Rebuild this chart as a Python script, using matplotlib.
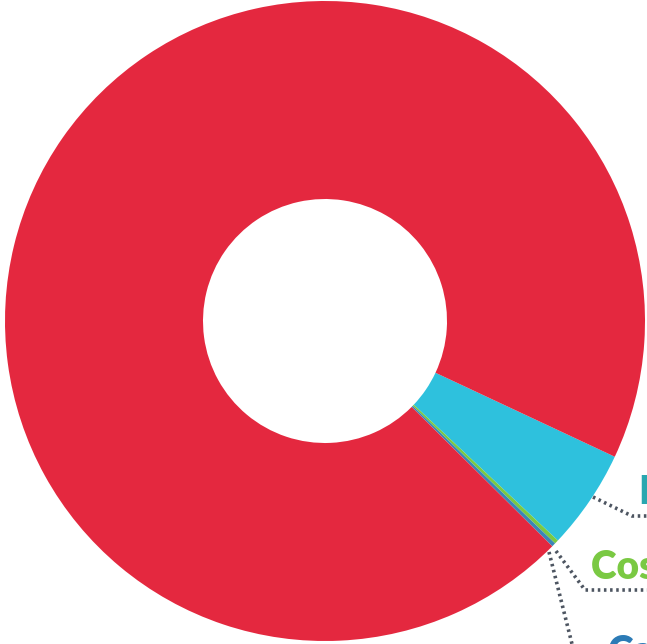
import matplotlib.pyplot as plt
import numpy as np

# share of total by category
labels = ["Fuel", "Cost of sales", "Capital"]
label_colors = ["#2aa7b0", "#7ac943", "#2c7bb6"]
categories = ["Other", "Fuel", "Cost of sales", "Capital"]
values = [94.54, 5.06, 0.20, 0.20]
colors = ["#e4283f", "#2ec1dd", "#7ac943", "#3b86b6"]

W, H = 647, 644
fig = plt.figure(figsize=(W / 100, H / 100), dpi=100)
ax = fig.add_axes([0, 0, 1, 1])

cx, cy, r = 325, H - 321, 320
# clockwise from the red/cyan boundary: cyan, green, blue, then the big red slice
order = [1, 2, 3, 0]
ax.pie([values[i] for i in order], colors=[colors[i] for i in order],
       startangle=-25.1, counterclock=False, center=(cx, cy), radius=r,
       wedgeprops=dict(width=r - 122, linewidth=0), frame=True)
ax.set_xlim(0, W)
ax.set_ylim(0, H)
ax.set_aspect("equal")
ax.axis("off")


def px(pts):
    pts = np.array(pts, dtype=float)
    return pts[:, 0], H - pts[:, 1]


leaders = [
    [(593, 497), (632, 516), (670, 516)],
    [(556, 551), (585, 590), (670, 590)],
    [(549, 552), (576, 660)],
]
for pts in leaders:
    x, y = px(pts)
    ax.plot(x, y, color="#4d5561", lw=2.6, ls=(0, (0.7, 1.0)), clip_on=False)

text_pos = [(638, 504), (591, 579), (608, 664)]
for lab, col, (tx, ty) in zip(labels, label_colors, text_pos):
    ax.text(tx, H - ty, lab, color=col, fontsize=28, fontweight="heavy",
            family="Lato", ha="left", va="baseline")

fig.savefig("out.png", dpi=100)
